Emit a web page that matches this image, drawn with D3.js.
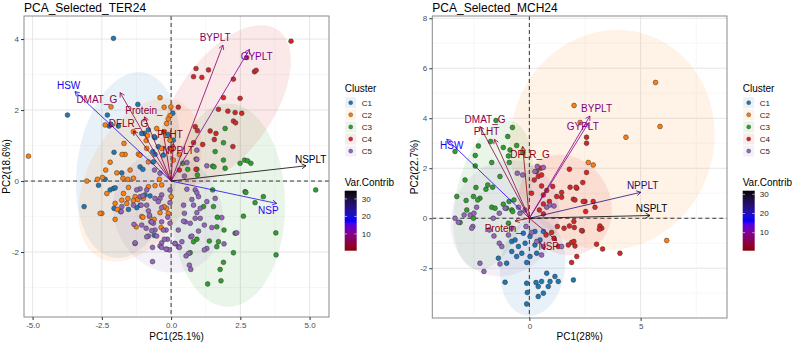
<!DOCTYPE html>
<html><head><meta charset="utf-8">
<script src="https://cdn.jsdelivr.net/npm/d3@7"></script>
<style>body{margin:0;background:#fff}svg{font-family:"Liberation Sans",Arial,sans-serif}</style>
</head><body><svg id="c" width="792" height="342"></svg>
<script>
// ---------------- DATA ----------------
const clusters = ["C1","C2","C3","C4","C5"];

// TER24 individuals (PC1, PC2) by cluster
const terC1 = [[-2.08,4.02],[-3.74,1.86],[-1.2,2.16],[-2.3,1.86],[-2.23,1.55],[-1.9,1.55],[-0.96,1.34],[0.06,1.91],[-2.17,1.6],[-1.06,1.34],[-0.82,1.44],[-0.58,1.22],[-0.1,1.31],[-0.04,0.92],[-2.06,0.81],[-0.58,0.75],[-0.28,0.73],[-0.64,0.54],[-1.12,0.4],[-1.02,0.33],[-1.78,0.23],[-2.62,-0.12],[-2.38,0.05],[-2.2,-0.25],[-2.08,-0.21],[-0.76,-0.42],[-1.12,-0.68],[-2.06,-0.77],[-3.14,-0.72],[-2.02,-0.19],[-1.82,-0.86],[-1.54,-0.8],[-1.24,-0.75],[-0.94,-0.39],[-0.61,-1.53],[-0.61,1.25],[-0.46,0.97],[-0.66,0.83],[0.08,1.15]];
const terC2 = [[-5.15,0.7],[-2.17,2.09],[-2.38,1.58],[-1.36,1.39],[-0.4,2.35],[-0.01,2.09],[-0.25,2.08],[-0.04,1.84],[-0.16,1.62],[-1.7,1.06],[-1.66,0.75],[-1.18,0.76],[-0.88,0.92],[-2.2,0.53],[-0.85,1.28],[-0.9,1.14],[-0.24,1.39],[-0.04,1.15],[-0.34,0.92],[-1.77,0.75],[-1.12,0.73],[-0.82,0.54],[-1.48,0.31],[-1.96,0.23],[-2.36,0.31],[-1.36,0.08],[-1.74,0.08],[-2.48,0.1],[-2.66,0.05],[-3.04,0],[-2.32,-0.35],[-1.56,0.05],[-0.42,0.05],[-0.34,-0.11],[-0.58,-0.13],[-0.82,-0.16],[-1.56,-0.49],[-1.3,-0.44],[-1.0,-0.49],[0,-0.44],[-1.6,-0.63],[-2.5,-0.91],[-1.06,-1.0],[-0.78,-1.0],[-0.4,-0.89],[-0.16,-0.77],[-0.36,-1.31],[-2.56,-0.91],[-2.02,-1.08],[-1.54,-0.18],[-1.72,-0.35],[-2.02,-0.63],[-1.94,-0.8],[-1.78,-0.54],[-1.36,-0.55],[-1.2,-0.52],[-1.26,-1.29],[-1.02,-1.02],[-0.61,-1.08],[-0.25,-0.72],[-0.1,-0.91],[-0.1,1.75],[-0.52,1.48],[0.02,0.89],[0.08,0.59],[0.3,0.75]];
const terC3 = [[1.95,1.48],[1.89,1.08],[1.59,0.83],[1.5,0.42],[1.95,0.36],[2.49,0.5],[2.65,0.59],[2.76,0.57],[2.88,0.5],[1.89,0.59],[1.55,0.4],[0.6,0.33],[1.5,-0.25],[1.53,-0.72],[1.17,-0.72],[1.65,-1.29],[1.91,-1.38],[2.31,-1.47],[2.61,-0.99],[2.67,-0.3],[0.81,-1.71],[1.65,-1.85],[2.25,-2.02],[5.22,-0.25],[2.7,-0.32],[3.33,-0.44],[3.03,-0.61],[3.78,-1.46],[3.79,-2.08],[1.89,-2.29],[1.77,-2.49],[1.8,-2.81],[1.32,-2.9],[1.71,-1.71],[1.67,-1.02],[1.38,-1.69],[0.93,-1.64],[0.69,-2.02],[0.42,0.5],[0.93,0.33],[0.95,0.17]];
const terC4 = [[4.33,3.94],[0.9,3.17],[1.35,3.13],[0.81,2.94],[1.11,2.92],[2.73,3.48],[3.01,3.08],[3.07,3.12],[2.25,2.87],[1.89,2.35],[2.49,2.33],[1.71,2.02],[2.05,1.97],[2.31,1.93],[2.25,1.69],[2.33,1.64],[0.87,1.53],[1.41,1.41],[1.56,1.17],[1.14,1.03],[2.23,0.97],[0.26,2.08],[0.81,1.08],[1.62,1.34],[2.55,1.91],[0.3,0.31],[0.9,0.33],[0.95,1.42]];
const terC5 = [[-0.6,0.31],[-0.4,0.22],[-0.88,-0.25],[-1.12,-0.22],[-1.24,-0.25],[-1.12,-0.44],[-0.58,-0.49],[-0.34,-0.39],[-0.04,-0.25],[-0.04,-0.61],[-0.34,-0.75],[-0.88,-0.68],[-1.36,-0.68],[-1.78,-0.72],[-1.8,-0.86],[-0.73,-1.15],[-0.64,-1.19],[-0.34,-1.15],[-0.12,-1.02],[-0.04,-1.19],[-0.58,-1.38],[-0.9,-1.33],[-1.34,-1.22],[-1.06,-1.24],[-0.82,-1.55],[-0.52,-1.55],[-0.18,-1.38],[-0.34,-1.74],[-0.13,-1.64],[-0.4,-1.83],[-0.16,-1.92],[-1.3,-1.76],[0.14,-1.76],[0.26,-1.85],[-0.06,-1.94],[0.93,0.87],[0.9,0.62],[1.29,0.43],[0.57,0.52],[0.48,0.14],[0.87,-0.25],[0.99,-0.44],[1.59,-0.49],[1.05,-0.77],[0.81,-0.68],[0.45,-0.68],[0.48,-0.91],[0.51,-1.15],[0.87,-1.05],[1.2,-1.24],[1.83,-1.03],[0.99,-1.41],[0.71,-1.57],[0.39,-1.71],[0.63,-2.04],[1.29,-1.9],[1.91,-1.77],[2.37,-1.46],[1.47,-1.31],[1.2,-1.94],[1.29,-0.58],[0.93,-0.89],[1.05,-1.05],[0.69,-1.19],[0.45,-1.13],[0.75,-1.55],[0.54,-2.11],[0.66,-2.37],[0.71,-2.49],[0.26,-1.38],[0.3,-1.87],[0.14,-1.76],[0.93,-0.33],[0.75,-0.52],[0.57,-0.23],[-1.02,-0.42],[-1.08,-0.68],[-0.82,-0.84],[-0.78,-0.96],[-0.7,-1.15],[-1.3,-1.74],[-0.88,-1.57],[-0.7,-1.4],[-0.28,-1.38],[-0.24,-1.64],[-0.34,-1.87],[-0.18,-1.92],[-0.67,-1.87],[-0.67,-2.27],[-0.4,-0.49],[-0.46,-0.58],[0.93,0.61]];
// 95% normal ellipses: centre x, centre y, sd x, sd y, correlation
const terEllipses = [[-1.55,0.45,0.77,1.07,0.2],[-1.12,0.03,0.91,0.94,0.4],[2.06,-0.68,0.84,1.17,0.0],[1.95,2.14,0.97,0.92,0.55],[-0.11,-0.9,0.81,0.69,-0.1]];

// MCH24 individuals
const mchC1 = [[-1.09,-2.56],[-0.12,-2.6],[-0.09,-2.97],[0.03,-1.53],[0.33,-1.4],[0.55,-2.53],[0.63,-3.0],[0.85,-2.73],[0.93,-2.53],[1.15,-2.33],[1.3,-2.53],[0.78,-2.2],[0.3,-2.57],[0.4,-2.73],[-0.49,-1.13],[-0.34,-1.4],[-0.57,-1.53],[-0.79,-1.33],[-0.19,-1.0],[-0.79,-0.93],[0.48,-0.87],[0.03,-0.73],[0.25,-0.53],[-0.27,-0.6],[1.98,-2.47],[-0.12,-1.77],[-1.02,-1.8],[-1.39,-1.6],[-0.64,-0.87],[0.63,-0.53],[0.25,-1.07],[-0.12,-3.43],[0.4,-3.13]];
const mchC2 = [[2.01,4.51],[2.28,3.83],[2.65,2.23],[5.67,5.43],[4.34,3.24],[5.87,3.67],[2.87,2.13],[6.17,-0.89]];
const mchC3 = [[-1.5,3.91],[-0.76,3.63],[-0.97,3.27],[-2.29,2.89],[-2.43,2.51],[-3.34,2.67],[-1.74,3.07],[-0.87,2.73],[-0.57,2.91],[-0.94,2.49],[-1.69,2.23],[-0.9,2.23],[-2.43,2.09],[-0.3,2.63],[-2.89,1.53],[-3.26,0.87],[-2.51,0.87],[-2.22,0.8],[-2.4,1.23],[-1.95,1.16],[-1.65,1.24],[-1.87,1.33],[-1.69,0.44],[-1.54,0.4],[-1.17,0.56],[-1.02,0.4],[-0.79,0.33],[-0.91,0.67],[-0.69,0.73],[-1.32,1.67],[-1.17,2.83],[-3.11,-0.17],[-2.51,0],[-0.94,-0.2],[-0.75,0.27],[-2.81,0.33],[-2.32,0.73],[-2.84,0.71]];
const mchC4 = [[2.57,3.0],[2.57,3.24],[1.8,1.96],[0.51,2.0],[0.33,1.87],[2.57,1.83],[2.4,1.43],[2.13,1.2],[1.83,1.24],[1.45,1.03],[1.45,0.84],[1.23,0.87],[1.98,0.76],[2.5,0.67],[2.95,0.44],[2.53,0.27],[3.17,-0.31],[3.25,-0.4],[2.38,-0.51],[2.02,-0.37],[1.8,-0.31],[1.56,-0.4],[1.26,-0.33],[1.0,-0.57],[1.11,-0.8],[0.75,-0.67],[1.9,-0.97],[2.05,-1.11],[1.75,-1.07],[2.13,-1.53],[1.9,-1.77],[4.07,-1.4],[0.63,0.17],[0.45,0.33],[0.9,0.67],[0.63,0.57],[0.4,1.67],[0.1,1.0],[1.05,1.27],[0.63,0.93],[1.3,-1.13],[0.22,1.53],[0.55,1.73],[0.55,1.29],[0.78,1.11],[2.1,1.24],[2.87,0.67],[2.05,0.73],[2.42,0.67],[2.0,-0.13],[2.35,-0.49],[3.15,-0.44],[2.0,-0.93],[3.02,-1.04],[3.29,-1.23]];
const mchC5 = [[-3.34,0],[-2.93,0.13],[-2.66,0.13],[-2.54,-0.33],[-2.49,0.2],[-1.59,-0.71],[-1.35,-1.0],[-1.24,-1.13],[-0.94,-0.67],[-0.79,-0.4],[-0.54,1.8],[-0.3,1.73],[-0.19,0.33],[-0.42,0.2],[-0.49,0.44],[0.25,1.87],[0.36,2.07],[0.63,2.03],[0.78,0.44],[0.93,0.53],[1.11,0.49],[1.45,-1.13],[0.63,-1.13],[0.33,-0.93],[0.1,-0.57],[-2.22,-1.8],[-2.04,-2.13],[-1.32,-1.83],[-1.8,-0.47],[-2.37,0.44],[-1.62,0],[-1.35,0.2],[-1.09,0.4],[0.55,-1.47],[-0.15,-0.33],[-3.19,-0.16],[-2.59,-0.4]];
const mchEllipses = [[0.15,-1.95,0.6,0.8,0.1],[3.72,3.13,1.88,1.8,0.05],[-1.63,0.93,0.73,1.22,0.35],[1.6,0.53,0.86,0.82,-0.1],[-1.09,0.0,1.0,0.95,0.1]];

// Variables
const varNames = ["HSW","DMAT_G","Protein_","DFLR_G","PLHT","NPPLT","BYPLT","GYPLT","NSPLT","NSP"];
const terVarX = [-3.47,-1.84,-0.96,-1.36,-0.3,0.08,1.87,2.83,4.87,3.81];
const terVarY = [2.52,2.49,1.81,1.41,1.45,1.06,3.83,3.71,0.43,-0.63];
const terContrib = [19,5.5,4,2.5,0.4,2,7,11,34.7,17];
const terLabX = [-3.7,-2.68,-0.98,-1.54,-0.04,0.26,1.59,3.09,5.04,3.51];
const terLabY = [2.7,2.31,2.0,1.61,1.31,0.87,4.04,3.5,0.61,-0.82];

const mchVarX = [-3.71,-2.22,-0.64,-0.3,-1.57,5.01,2.72,2.65,5.42,1.23];
const mchVarY = [3.16,3.67,-0.11,2.87,3.16,1.04,4.09,3.8,0.11,-0.9];
const mchContrib = [16,5,0.6,1.5,4,24,8.5,10,31.9,1.5];
const mchLabX = [-3.49,-1.99,-1.17,0.03,-1.92,5.09,3.02,2.4,5.49,0.87];
const mchLabY = [2.93,3.97,-0.42,2.57,3.47,1.33,4.4,3.67,0.4,-1.14];

const terXTicks = [-5,-2.5,0,2.5,5], terYTicks = [-2,0,2,4];
const mchXTicks = [0,5], mchYTicks = [-2,0,2,4,6,8];
const contribTicks = [10,20,30];

// ---------------- DRAW ----------------
const palette = ["#1F77B4","#FF7F0E","#2CA02C","#D62728","#9467BD"];
const svg = d3.select("#c");

function minorTicks(major, dom){
  const step = major[1]-major[0], out=[];
  for(let k=Math.floor(dom[0]/step)-1;k<=Math.ceil(dom[1]/step)+1;k++){
    const v=k*step+step/2; if(v>dom[0]&&v<dom[1]) out.push(v);
  }
  return out;
}

function drawPanel(o){
  const x = d3.scaleLinear().domain(o.xDom).range([o.x0,o.x1]);
  const y = d3.scaleLinear().domain(o.yDom).range([o.y1,o.y0]);
  const g = svg.append("g");
  const clipId = "clip"+o.id;
  svg.append("clipPath").attr("id",clipId).append("rect")
    .attr("x",o.x0).attr("y",o.y0).attr("width",o.x1-o.x0).attr("height",o.y1-o.y0);
  const pg = g.append("g").attr("clip-path",`url(#${clipId})`);
  // grid
  minorTicks(o.xTicks,o.xDom).forEach(v=>pg.append("line").attr("x1",x(v)).attr("x2",x(v)).attr("y1",o.y0).attr("y2",o.y1).attr("stroke","#f2f2f2").attr("stroke-width",0.6));
  minorTicks(o.yTicks,o.yDom).forEach(v=>pg.append("line").attr("y1",y(v)).attr("y2",y(v)).attr("x1",o.x0).attr("x2",o.x1).attr("stroke","#f2f2f2").attr("stroke-width",0.6));
  o.xTicks.forEach(v=>pg.append("line").attr("x1",x(v)).attr("x2",x(v)).attr("y1",o.y0).attr("y2",o.y1).attr("stroke","#e6e6e6").attr("stroke-width",1));
  o.yTicks.forEach(v=>pg.append("line").attr("y1",y(v)).attr("y2",y(v)).attr("x1",o.x0).attr("x2",o.x1).attr("stroke","#e6e6e6").attr("stroke-width",1));
  // ellipses
  const k = Math.sqrt(5.991);
  const line = d3.line().x(d=>x(d[0])).y(d=>y(d[1]));
  o.ellipses.forEach((e,i)=>{
    const [cx,cy,sx,sy,r]=e, dlt=Math.acos(r);
    const pts=d3.range(0,361,3).map(a=>{const t=a*Math.PI/180;return [cx+k*sx*Math.cos(t), cy+k*sy*Math.cos(t-dlt)];});
    pg.append("path").attr("d",line(pts)+"Z").attr("fill",palette[i]).attr("fill-opacity",0.1).attr("stroke","none");
  });
  // zero lines
  pg.append("line").attr("x1",x(0)).attr("x2",x(0)).attr("y1",o.y0).attr("y2",o.y1).attr("stroke","#222").attr("stroke-width",0.9).attr("stroke-dasharray","4,3");
  pg.append("line").attr("y1",y(0)).attr("y2",y(0)).attr("x1",o.x0).attr("x2",o.x1).attr("stroke","#222").attr("stroke-width",0.9).attr("stroke-dasharray","4,3");
  // points
  o.points.forEach((arr,i)=>{
    pg.selectAll(null).data(arr).enter().append("circle")
      .attr("cx",d=>x(d[0])).attr("cy",d=>y(d[1])).attr("r",2.4)
      .attr("fill",palette[i]).attr("stroke","#333").attr("stroke-width",0.5);
  });
  // arrows
  const ext = d3.extent(o.contrib);
  const col = d3.scaleLinear().domain([ext[0],(ext[0]+ext[1])/2,ext[1]]).range(["#8B0000","#0000FF","#000000"]).interpolate(d3.interpolateLab);
  varNames.forEach((n,i)=>{
    const c = col(o.contrib[i]);
    const x0=x(0),y0=y(0),x1=x(o.vx[i]),y1=y(o.vy[i]);
    pg.append("line").attr("x1",x0).attr("y1",y0).attr("x2",x1).attr("y2",y1).attr("stroke",c).attr("stroke-width",0.8);
    const ang=Math.atan2(y1-y0,x1-x0), L=5, A=Math.PI/6;
    const p1=[x1-L*Math.cos(ang-A),y1-L*Math.sin(ang-A)], p2=[x1-L*Math.cos(ang+A),y1-L*Math.sin(ang+A)];
    pg.append("path").attr("d",`M${p1}L${x1},${y1}L${p2}`).attr("fill","none").attr("stroke",c).attr("stroke-width",0.8);
  });
  varNames.forEach((n,i)=>{
    pg.append("text").attr("x",x(o.lx[i])).attr("y",y(o.ly[i])).attr("dy","0.35em").attr("text-anchor","middle")
      .attr("font-size",10).attr("fill",col(o.contrib[i])).text(n);
  });
  // border
  g.append("rect").attr("x",o.x0).attr("y",o.y0).attr("width",o.x1-o.x0).attr("height",o.y1-o.y0).attr("fill","none").attr("stroke","#8a8a8a").attr("stroke-width",1);
  // axes
  const ax = g.append("g").attr("transform",`translate(0,${o.y1})`).call(d3.axisBottom(x).tickValues(o.xTicks).tickSize(3).tickPadding(2).tickFormat(o.xFmt));
  const ay = g.append("g").attr("transform",`translate(${o.x0},0)`).call(d3.axisLeft(y).tickValues(o.yTicks).tickSize(3).tickPadding(2).tickFormat(o.yFmt));
  [ax,ay].forEach(a=>{a.select(".domain").remove();a.selectAll("line").attr("stroke","#333");a.selectAll("text").attr("fill","#4d4d4d").attr("font-size",8).attr("font-family","Liberation Sans, Arial, sans-serif");});
  // titles
  svg.append("text").attr("x",o.x0).attr("y",11.5).attr("font-size",12).attr("fill","#000").text(o.title);
  svg.append("text").attr("x",(o.x0+o.x1)/2).attr("y",340).attr("text-anchor","middle").attr("font-size",10).text(o.xTitle);
  svg.append("text").attr("transform",`translate(${o.x0-14},${(o.y0+o.y1)/2}) rotate(-90)`).attr("text-anchor","middle").attr("font-size",10).text(o.yTitle);
  // legend
  const lx=o.lx0;
  svg.append("text").attr("x",lx).attr("y",91.5).attr("font-size",10).text("Cluster");
  clusters.forEach((c,i)=>{
    const cy=102.7+i*12.1;
    svg.append("rect").attr("x",lx+0.5).attr("y",cy-5.5).attr("width",11).attr("height",11).attr("fill",palette[i]).attr("fill-opacity",0.1);
    svg.append("circle").attr("cx",lx+6).attr("cy",cy).attr("r",2).attr("fill",palette[i]).attr("stroke","#333").attr("stroke-width",0.4);
    svg.append("text").attr("x",lx+17).attr("y",cy).attr("dy","0.35em").attr("font-size",8).attr("fill","#222").text(c);
  });
  svg.append("text").attr("x",lx).attr("y",185.5).attr("font-size",10).text("Var.Contrib");
  const bt=190.7,bb=250.7,bw=12;
  const gradId="grad"+o.id;
  const grad=svg.append("defs").append("linearGradient").attr("id",gradId).attr("x1",0).attr("x2",0).attr("y1",1).attr("y2",0);
  d3.range(0,1.0001,0.05).forEach(t=>grad.append("stop").attr("offset",t).attr("stop-color",col(ext[0]+t*(ext[1]-ext[0]))));
  svg.append("rect").attr("x",lx).attr("y",bt).attr("width",bw).attr("height",bb-bt).attr("fill",`url(#${gradId})`);
  const cb=d3.scaleLinear().domain(ext).range([bb,bt]);
  contribTicks.forEach(v=>{
    svg.append("line").attr("x1",lx).attr("x2",lx+2.4).attr("y1",cb(v)).attr("y2",cb(v)).attr("stroke","#fff").attr("stroke-width",0.6);
    svg.append("line").attr("x1",lx+bw-2.4).attr("x2",lx+bw).attr("y1",cb(v)).attr("y2",cb(v)).attr("stroke","#fff").attr("stroke-width",0.6);
    svg.append("text").attr("x",lx+17).attr("y",cb(v)).attr("dy","0.35em").attr("font-size",8).attr("fill","#222").text(v);
  });
}

drawPanel({id:"t",x0:24,x1:329,y0:16,y1:317,xDom:[-5.31,5.7],yDom:[-3.83,4.65],
  xTicks:terXTicks,yTicks:terYTicks,xFmt:v=>v.toFixed(1),yFmt:v=>String(v),
  points:[terC1,terC2,terC3,terC4,terC5],ellipses:terEllipses,
  vx:terVarX,vy:terVarY,contrib:terContrib,lx:terLabX,ly:terLabY,
  title:"PCA_Selected_TER24",xTitle:"PC1(25.1%)",yTitle:"PC2(18.6%)",lx0:344.7});
drawPanel({id:"m",x0:432.3,x1:727,y0:16,y1:318,xDom:[-4.36,8.88],yDom:[-3.99,8.09],
  xTicks:mchXTicks,yTicks:mchYTicks,xFmt:v=>String(v),yFmt:v=>String(v),
  points:[mchC1,mchC2,mchC3,mchC4,mchC5],ellipses:mchEllipses,
  vx:mchVarX,vy:mchVarY,contrib:mchContrib,lx:mchLabX,ly:mchLabY,
  title:"PCA_Selected_MCH24",xTitle:"PC1(28%)",yTitle:"PC2(22.7%)",lx0:742.7});
</script></body></html>
